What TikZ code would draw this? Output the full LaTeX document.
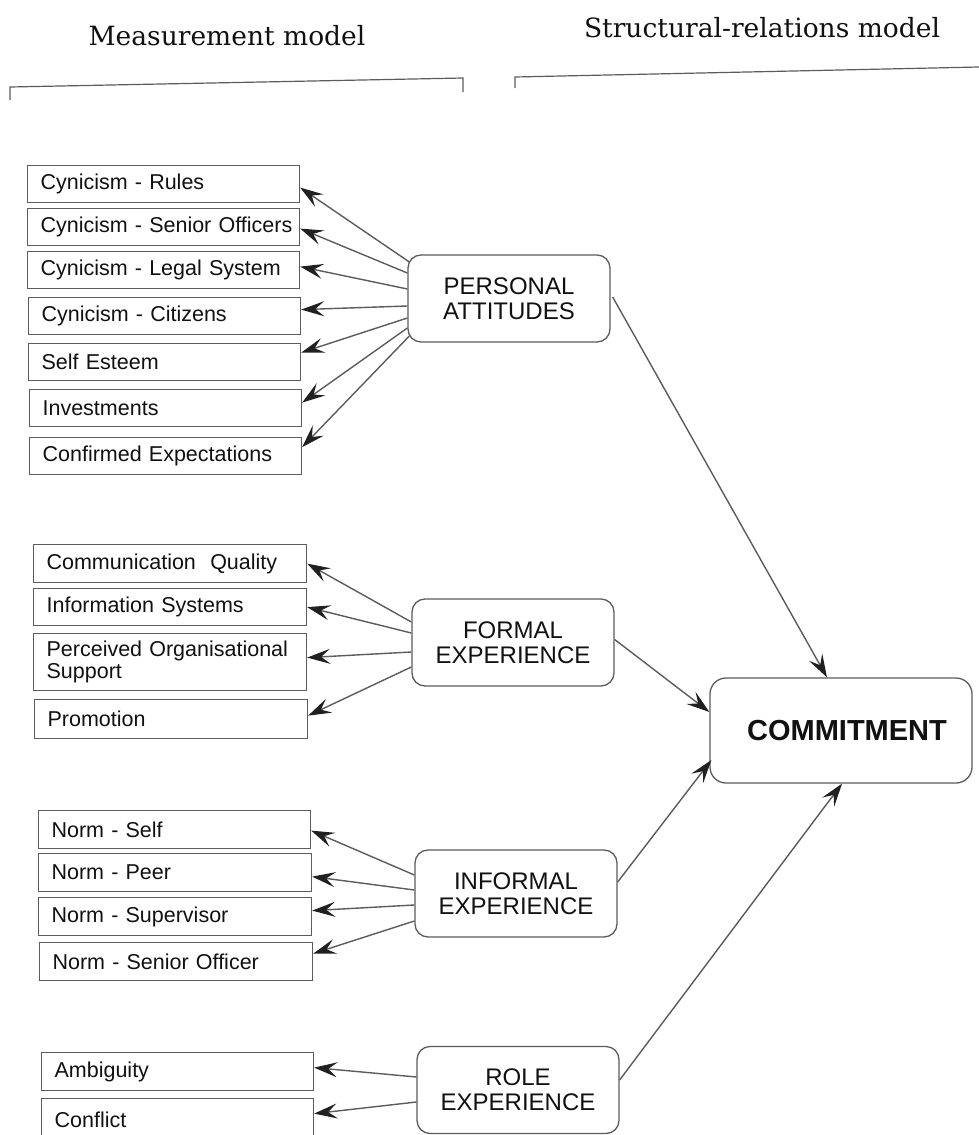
\documentclass[tikz,border=0pt]{standalone}
\usepackage{fontspec}
\setmainfont{Liberation Sans}
\newfontfamily\headfont{DejaVu Serif}
\usetikzlibrary{arrows.meta}

\definecolor{edge}{HTML}{5C5C5C}
\definecolor{tipc}{HTML}{202020}
\definecolor{ink}{HTML}{111111}

\tikzset{
  indicator/.style={draw=edge, line width=1.2pt, rectangle, anchor=north west,
    text width=#1, align=left, inner xsep=13pt, inner ysep=0pt,
    minimum height=37pt, text=ink, font=\fontsize{21.5}{22}\selectfont},
  latent/.style={draw=edge, line width=1.3pt, rounded corners=13pt,
    minimum width=202pt, minimum height=87pt, align=center, text=ink,
    font=\fontsize{24}{25}\selectfont},
  header/.style={anchor=base, text=ink, font=\headfont\fontsize{26.5}{28}\selectfont},
  bracketline/.style={draw=edge, line width=1.2pt},
  arr/.style={draw=edge, line width=1.4pt,
    -{Stealth[length=23pt, width=15pt, inset=9pt, color=tipc]}},
}

\begin{document}
\begin{tikzpicture}[x=1pt, y=-1pt]
  \path[use as bounding box, fill=white] (0,0) rectangle (979,1135);

  % column headings and their brackets
  \node[header] (hmeas) at (227,45) {Measurement model};
  \node[header] (hstruct) at (762,37) {Structural-relations model};
  \draw[bracketline] (10,100) -- (10,87) -- (463,78) -- (463,92);
  \draw[bracketline] (515,88) -- (515,77) -- (979,67);

  % latent constructs
  \node[latent] (pa) at (509,298.5) {PERSONAL\\ATTITUDES};
  \node[latent] (fe) at (513,642.5) {FORMAL\\EXPERIENCE};
  \node[latent] (ie) at (516,893.5) {INFORMAL\\EXPERIENCE};
  \node[latent] (re) at (518,1090) {ROLE\\EXPERIENCE};
  \node[draw=edge, line width=1.3pt, rounded corners=16pt, minimum width=262pt,
        minimum height=105pt, text=ink, font=\bfseries\fontsize{29}{30}\selectfont]
        (com) at (841,730.5) {\hspace*{12pt}COMMITMENT};

  % personal attitudes indicators
  \node[indicator=246pt] (r1) at (27,165) {Cynicism - Rules};
  \node[indicator=246pt] (r2) at (27,208) {\mbox{Cynicism - Senior Officers}};
  \node[indicator=246pt] (r3) at (27,251) {Cynicism - Legal System};
  \node[indicator=246pt] (r4) at (28,297) {Cynicism - Citizens};
  \node[indicator=246pt] (r5) at (28,343) {Self Esteem};
  \node[indicator=246pt] (r6) at (29,389) {Investments};
  \node[indicator=246pt] (r7) at (29,437) {Confirmed Expectations};

  % formal experience indicators
  \node[indicator=247pt, minimum height=38pt] (f1) at (33,544) {Communication\ \ Quality};
  \node[indicator=247pt] (f2) at (33,588) {Information Systems};
  \node[indicator=247pt, minimum height=57pt] (f3) at (33,633) {Perceived Organisational\\Support};
  \node[indicator=247pt, minimum height=39pt] (f4) at (34,699) {Promotion};

  % informal experience indicators
  \node[indicator=246pt, minimum height=38pt] (n1) at (38,810) {Norm - Self};
  \node[indicator=247pt, minimum height=38pt] (n2) at (38,853) {Norm - Peer};
  \node[indicator=247pt, minimum height=38pt] (n3) at (38,897) {Norm - Supervisor};
  \node[indicator=247pt, minimum height=38pt] (n4) at (39,942) {Norm - Senior Officer};

  % role experience indicators
  \node[indicator=246pt, minimum height=38pt] (a1) at (41,1052) {Ambiguity};
  \node[indicator=246pt, minimum height=42pt] (a2) at (41,1098) {Conflict};

  % loadings: personal attitudes
  \draw[arr] ([xshift=2pt,yshift=36.5pt]pa.west) -- ([yshift=-3.5pt]r1.east);
  \draw[arr] ([yshift=25.5pt]pa.west) -- ([yshift=-1.5pt]r2.east);
  \draw[arr] ([yshift=9.5pt]pa.west) -- ([yshift=3.5pt]r3.east);
  \draw[arr] ([yshift=-7.5pt]pa.west) -- ([yshift=6.5pt]r4.east);
  \draw[arr] ([yshift=-19.5pt]pa.west) -- ([yshift=9.5pt]r5.east);
  \draw[arr] ([yshift=-29.5pt]pa.west) -- ([yshift=5.5pt]r6.east);
  \draw[arr] ([xshift=2pt,yshift=-37.5pt]pa.west) -- ([yshift=9pt]r7.east);

  % loadings: formal experience
  \draw[arr] ([yshift=20.5pt]fe.west) -- (f1.east);
  \draw[arr] ([yshift=9.5pt]fe.west) -- (f2.east);
  \draw[arr] ([yshift=-9.5pt]fe.west) -- ([yshift=4.5pt]f3.east);
  \draw[arr] ([yshift=-24.5pt]fe.west) -- ([yshift=3.5pt]f4.east);

  % loadings: informal experience
  \draw[arr] ([yshift=18.5pt]ie.west) -- ([yshift=-1pt]n1.east);
  \draw[arr] ([yshift=3.5pt]ie.west) -- ([yshift=-4pt]n2.east);
  \draw[arr] ([yshift=-11.5pt]ie.west) -- ([yshift=6pt]n3.east);
  \draw[arr] ([yshift=-27.5pt]ie.west) -- ([yshift=8pt]n4.east);

  % loadings: role experience
  \draw[arr] ([yshift=13pt]re.west) -- ([yshift=4pt]a1.east);
  \draw[arr] ([yshift=-12pt]re.west) -- ([yshift=6pt]a2.east);

  % structural paths
  \draw[arr] ([xshift=2pt,yshift=1.5pt]pa.east) -- ([xshift=-14pt]com.north);
  \draw[arr] ([yshift=3pt]fe.east) -- ([yshift=18.5pt]com.west);
  \draw[arr] ([yshift=11.5pt]ie.east) -- ([xshift=2pt,yshift=-29.5pt]com.west);
  \draw[arr] ([yshift=10pt]re.east) -- ([xshift=1pt]com.south);
\end{tikzpicture}
\end{document}
